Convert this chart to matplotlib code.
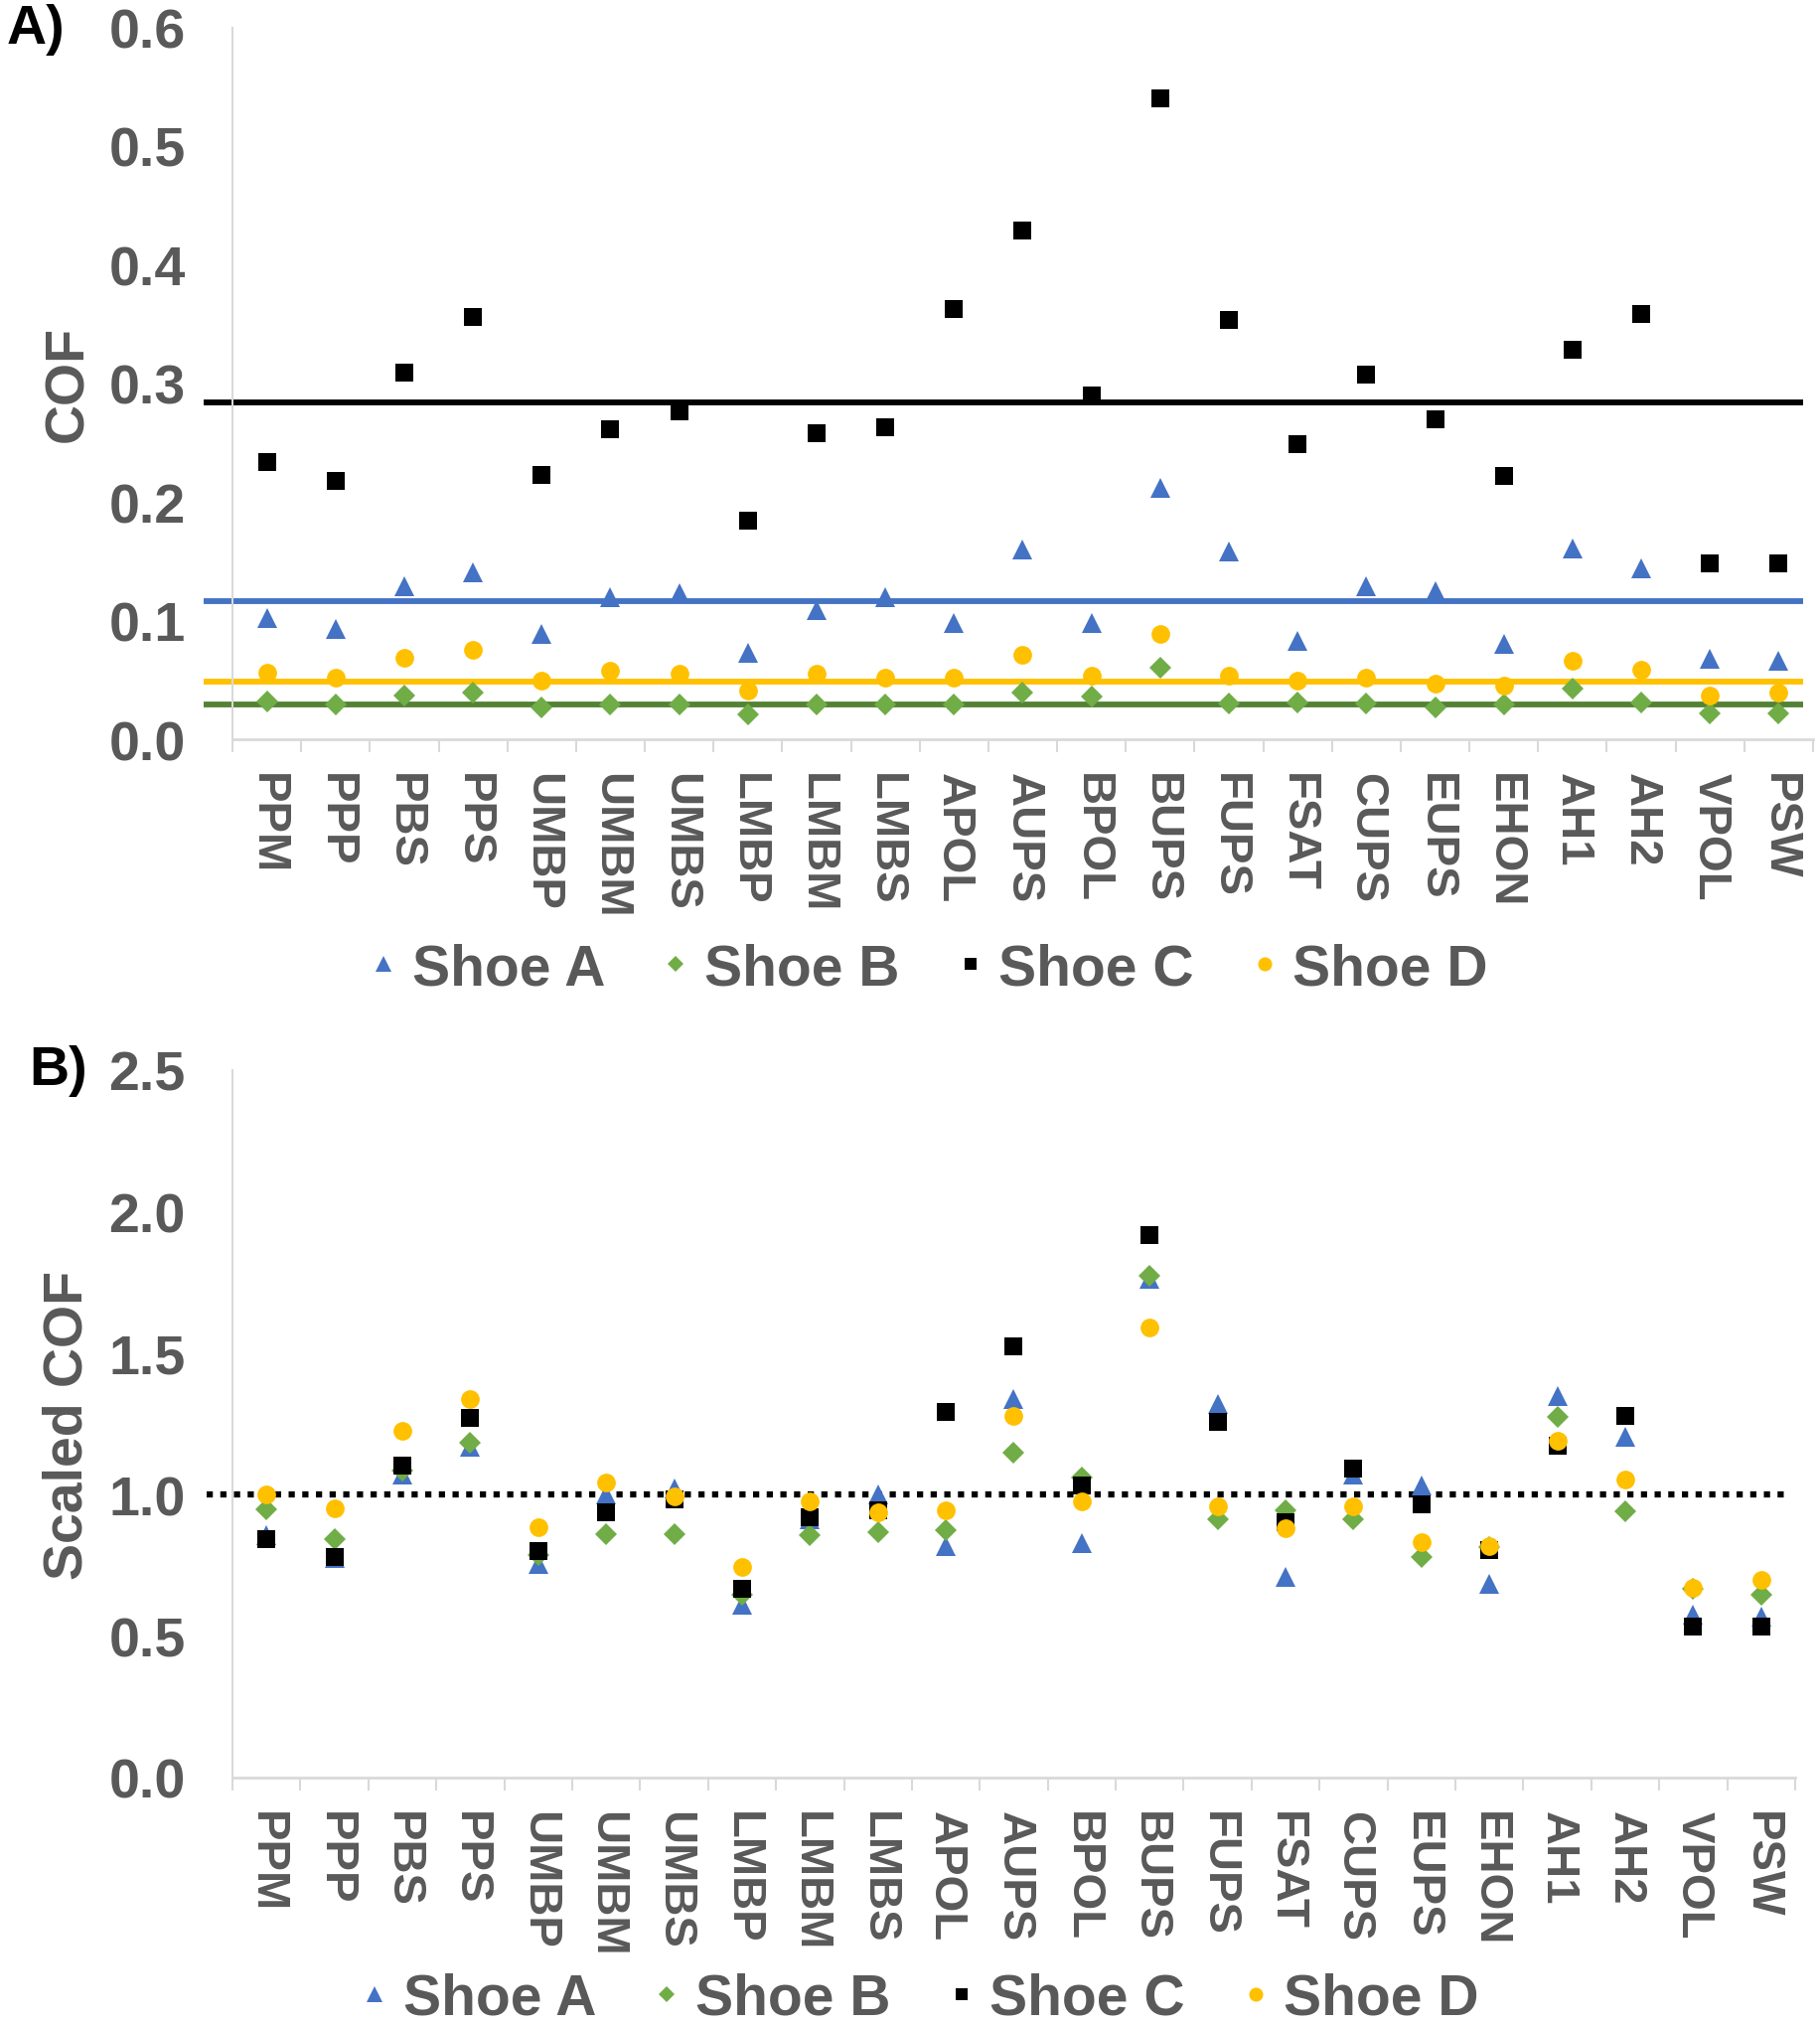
import matplotlib
matplotlib.use('Agg')
import matplotlib.pyplot as plt
from matplotlib.ticker import FormatStrFormatter, FixedLocator
import numpy as np

plt.rcParams['font.family'] = ['Liberation Sans', 'DejaVu Sans']
plt.rcParams['font.weight'] = 'bold'

surfaces = ['PPM', 'PPP', 'PBS', 'PPS', 'UMBP', 'UMBM', 'UMBS', 'LMBP', 'LMBM',
            'LMBS', 'APOL', 'AUPS', 'BPOL', 'BUPS', 'FUPS', 'FSAT', 'CUPS', 'EUPS',
            'EHON', 'AH1', 'AH2', 'VPOL', 'PSW']
shoes = ['Shoe A', 'Shoe B', 'Shoe C', 'Shoe D']

# panel A - raw COF
cof_a = [0.102, 0.093, 0.129, 0.141, 0.089, 0.120, 0.123, 0.073, 0.109, 0.120,
         0.098, 0.160, 0.098, 0.212, 0.158, 0.083, 0.129, 0.125, 0.080, 0.161,
         0.144, 0.068, 0.066]
cof_b = [0.032, 0.029, 0.037, 0.039, 0.027, 0.029, 0.029, 0.021, 0.029, 0.029,
         0.029, 0.039, 0.036, 0.060, 0.030, 0.031, 0.030, 0.027, 0.029, 0.043,
         0.031, 0.022, 0.022]
cof_c = [0.234, 0.218, 0.309, 0.356, 0.223, 0.261, 0.276, 0.184, 0.258, 0.263,
         0.363, 0.429, 0.290, 0.540, 0.353, 0.249, 0.307, 0.270, 0.222, 0.328,
         0.358, 0.148, 0.148]
cof_d = [0.056, 0.052, 0.069, 0.075, 0.049, 0.058, 0.055, 0.041, 0.055, 0.052,
         0.052, 0.071, 0.054, 0.089, 0.054, 0.049, 0.052, 0.047, 0.045, 0.066,
         0.059, 0.037, 0.039]
ref_lines = [0.1164, 0.0293, 0.284, 0.0486]

# panel B - scaled COF
sc_a = [0.858, 0.777, 1.070, 1.169, 0.756, 0.999, 1.023, 0.611, 0.913, 0.999,
        0.819, 1.339, 0.827, 1.764, 1.321, 0.709, 1.070, 1.031, 0.686, 1.347,
        1.203, 0.576, 0.568]
sc_b = [0.949, 0.843, 1.086, 1.183, 0.788, 0.861, 0.861, 0.647, 0.855, 0.866,
        0.874, 1.148, 1.062, 1.772, 0.913, 0.945, 0.913, 0.780, 0.814, 1.274,
        0.940, 0.666, 0.645]
sc_c = [0.843, 0.780, 1.101, 1.271, 0.800, 0.937, 0.984, 0.666, 0.921, 0.945,
        1.292, 1.523, 1.031, 1.916, 1.256, 0.901, 1.093, 0.965, 0.803, 1.172,
        1.277, 0.532, 0.532]
sc_d = [0.999, 0.952, 1.227, 1.339, 0.885, 1.043, 0.992, 0.745, 0.976, 0.937,
        0.945, 1.277, 0.976, 1.592, 0.960, 0.882, 0.957, 0.832, 0.819, 1.192,
        1.054, 0.670, 0.698]

colors = ['#4472C4', '#70AD47', '#000000', '#FFC000']
line_colors = ['#4472C4', '#548235', '#000000', '#FFC000']
markers = ['^', 'D', 's', 'o']
msizes = [15, 11, 12.3, 13.5]
grey = '#595959'

W, H = 1833, 2040
fig = plt.figure(figsize=(W / 100, H / 100), dpi=100)


def frac(x0, y0, x1, y1):
    return [x0 / W, 1 - y1 / H, (x1 - x0) / W, (y1 - y0) / H]


def style_axis(ax, ymax, ystep):
    x = np.arange(len(surfaces))
    ax.set_xlim(-0.5, len(surfaces) - 0.5)
    ax.set_ylim(0, ymax)
    ax.set_yticks(np.arange(0, ymax + 1e-9, ystep))
    ax.yaxis.set_major_formatter(FormatStrFormatter('%.1f'))
    ax.set_xticks(x)
    ax.set_xticklabels(surfaces, rotation=270, va='top', ha='center')
    ax.xaxis.set_minor_locator(FixedLocator(np.arange(len(surfaces) + 1) - 0.5))
    ax.tick_params(axis='x', which='major', length=0, pad=24, labelsize=34,
                   labelcolor=grey)
    ax.tick_params(axis='x', which='minor', length=9, width=1.5, color='#D9D9D9',
                   direction='out')
    ax.tick_params(axis='y', length=0, pad=34, labelsize=40, labelcolor=grey)
    for s in ['top', 'right']:
        ax.spines[s].set_visible(False)
    ax.spines['left'].set_color('#D9D9D9')
    ax.spines['left'].set_linewidth(1.5)
    ax.spines['bottom'].set_color('#D9D9D9')
    ax.spines['bottom'].set_linewidth(2)
    for lab in ax.get_xticklabels() + ax.get_yticklabels():
        lab.set_fontweight('bold')


# ---- panel A
axA = fig.add_axes(frac(234, 28.5, 1825, 745))
x = np.arange(len(surfaces))
for vals, c, lc, m, ms, lv, lab in zip([cof_a, cof_b, cof_c, cof_d], colors,
                                        line_colors, markers, msizes, ref_lines, shoes):
    axA.plot([-0.92, 22.36], [lv, lv], color=lc, lw=4.2, clip_on=False, zorder=2,
             solid_capstyle='butt')
    axA.plot(x, vals, linestyle='none', marker=m, ms=ms, color=c, mew=0,
             label=lab, zorder=3)
style_axis(axA, 0.6, 0.1)

# ---- panel B
axB = fig.add_axes(frac(234, 1078, 1807, 1790))
axB.plot([-0.88, 22.35], [1.0, 1.0], color='black', lw=4.5,
         linestyle=(0, (1, 1.2)), dash_capstyle='butt', clip_on=False, zorder=2)
for vals, c, m, ms, lab in zip([sc_a, sc_b, sc_c, sc_d], colors, markers,
                               msizes, shoes):
    axB.plot(x, vals, linestyle='none', marker=m, ms=ms, color=c, mew=0,
             label=lab, zorder=3)
style_axis(axB, 2.5, 0.5)

# axis titles and panel letters
fig.text(69 / W, 1 - 386 / H, 'COF', rotation=90, ha='center', va='center',
         fontsize=40, fontweight='bold', color=grey)
fig.text(69 / W, 1 - 1434 / H, 'Scaled COF', rotation=90, ha='center',
         va='center', fontsize=40, fontweight='bold', color=grey)
fig.text(7 / W, 1 - 30 / H, 'A)', ha='left', va='center', fontsize=40,
         fontweight='bold', color='black')
fig.text(29 / W, 1 - 1078 / H, 'B)', ha='left', va='center', fontsize=40,
         fontweight='bold', color='black')

# legends
for ax, cx, cy in [(axA, 935, 976), (axB, 926, 2013)]:
    h, l = ax.get_legend_handles_labels()
    leg = fig.legend(h, l, loc='center', bbox_to_anchor=(cx / W, 1 - cy / H),
                     ncol=4, frameon=False, markerscale=0.75, handlelength=0.5,
                     handletextpad=0.25, columnspacing=1.0,
                     prop={'size': 41, 'weight': 'bold'})
    for t in leg.get_texts():
        t.set_color(grey)

fig.savefig('out.png', dpi=100)
